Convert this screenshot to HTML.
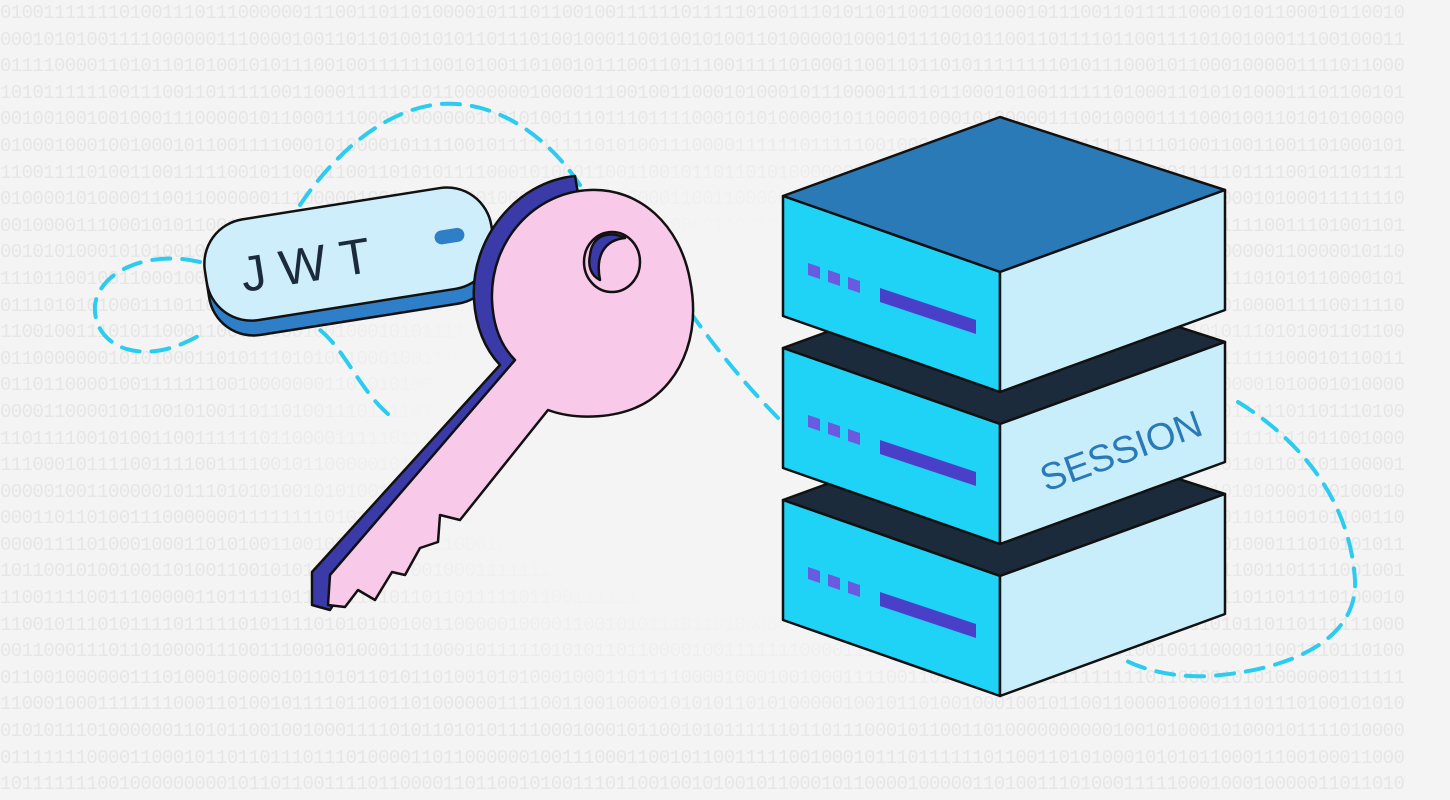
<!DOCTYPE html>
<html><head><meta charset="utf-8"><style>
html,body{margin:0;padding:0;width:1450px;height:800px;overflow:hidden;background:#f4f4f4}
#bg{position:absolute;left:0;top:0;width:1450px;height:800px;font-family:"Liberation Mono",monospace;font-size:19px;line-height:26.6px;color:#e6e6e6;white-space:pre;overflow:hidden;letter-spacing:-0.6px}
#fade{position:absolute;left:0;top:0;width:1450px;height:800px;background:radial-gradient(ellipse 560px 330px at 760px 420px,#f4f4f4 55%,rgba(244,244,244,0) 100%)}
svg{position:absolute;left:0;top:0}
</style></head><body>
<div id="bg"></div><div id="fade"></div>
<svg width="1450" height="800" viewBox="0 0 1450 800">
<g fill="none" stroke="#2ccbf0" stroke-width="4" stroke-dasharray="18 12" stroke-linecap="round">
<path d="M388 414 C360 390 345 350 320 330"/>
<path d="M200 262 C150 250 100 270 95 305 C92 345 140 370 200 335"/>
<path d="M300 205 C330 160 380 110 440 104 C500 100 550 140 580 185"/>
<path d="M690 312 C710 340 740 380 785 425"/>
<path d="M1238 402 C1300 440 1350 500 1355 580 C1358 640 1290 670 1210 676 C1170 678 1140 668 1125 660"/>
</g>
<g transform="rotate(-9 350 260)">
<rect x="205" y="215" width="290" height="105" rx="45" fill="#2f7fc8" stroke="#111" stroke-width="2.5"/>
<rect x="205" y="203" width="290" height="102" rx="45" fill="#cdeefa" stroke="#111" stroke-width="2.5"/>
<text x="240" y="275" font-family="Liberation Sans,sans-serif" font-size="50" letter-spacing="14" fill="#1c2b3b">JWT</text>
<rect x="437" y="245" width="30" height="14" rx="7" fill="#2f7fc8"/>
</g>
<g stroke="#111" stroke-width="2.5" stroke-linejoin="round">
<path d="M575 176 C515 182 470 240 474 300 C476 330 486 350 500 365 L312 572 L312 605 L330 610 L343 590 L360 580 L372 560 L390 570 L410 540 L430 520 L440 490 L540 390 C560 395 590 390 610 380 Z" fill="#3a3aa8"/>
<path d="M590 190 C535 192 490 240 492 300 C493 325 500 345 515 360 L330 575 L328 605 L345 607 L358 590 L375 600 L392 572 L405 575 L420 548 L438 542 L440 515 L460 520 L548 410 C575 420 620 420 650 400 C685 375 700 330 690 280 C680 225 640 188 590 190 Z" fill="#f9c9ea"/>
<ellipse cx="612" cy="262" rx="28" ry="30" fill="#f9c9ea"/>
<path d="M590 255 C592 235 610 230 625 238 C605 240 595 255 600 280 C590 275 588 265 590 255Z" fill="#3a3aa8"/>
</g>
<g stroke="#111" stroke-width="2.5" stroke-linejoin="round" id="srv"></g>
<text x="0" y="0" transform="translate(1046 492) rotate(-20)" font-family="Liberation Sans,sans-serif" font-size="38" fill="#2a7ab8">SESSION</text>
</svg>
<script>
var s='';function r(n){var t='';for(var i=0;i<n;i++)t+=Math.random()<0.5?'0':'1';return t}
for(var i=0;i<31;i++)s+=r(130)+'\n';document.getElementById('bg').textContent=s;
var g=document.getElementById('srv'),h='';
[2,1,0].forEach(function(k){var d=k*152;
h+='<polygon points="783,'+(196+d)+' 1000,'+(117+d)+' 1225,'+(190+d)+' 1000,'+(272+d)+'" fill="'+(k==0?'#2a7ab8':'#1c2b3b')+'"/>';
h+='<polygon points="783,'+(196+d)+' 1000,'+(272+d)+' 1000,'+(392+d)+' 783,'+(316+d)+'" fill="#1fd3f7"/>';
h+='<polygon points="1000,'+(272+d)+' 1225,'+(190+d)+' 1225,'+(310+d)+' 1000,'+(392+d)+'" fill="#c8eefb"/>';
for(var j=0;j<3;j++){var x=808+j*20,y=263+d+j*7;h+='<polygon points="'+x+','+y+' '+(x+12)+','+(y+4)+' '+(x+12)+','+(y+16)+' '+x+','+(y+12)+'" fill="#6a5ae0" stroke="none"/>'}
h+='<polygon points="880,'+(288+d)+' 976,'+(320+d)+' 976,'+(334+d)+' 880,'+(302+d)+'" fill="#4a3fc8" stroke="none"/>';
});g.innerHTML=h;
</script>
</body></html>
